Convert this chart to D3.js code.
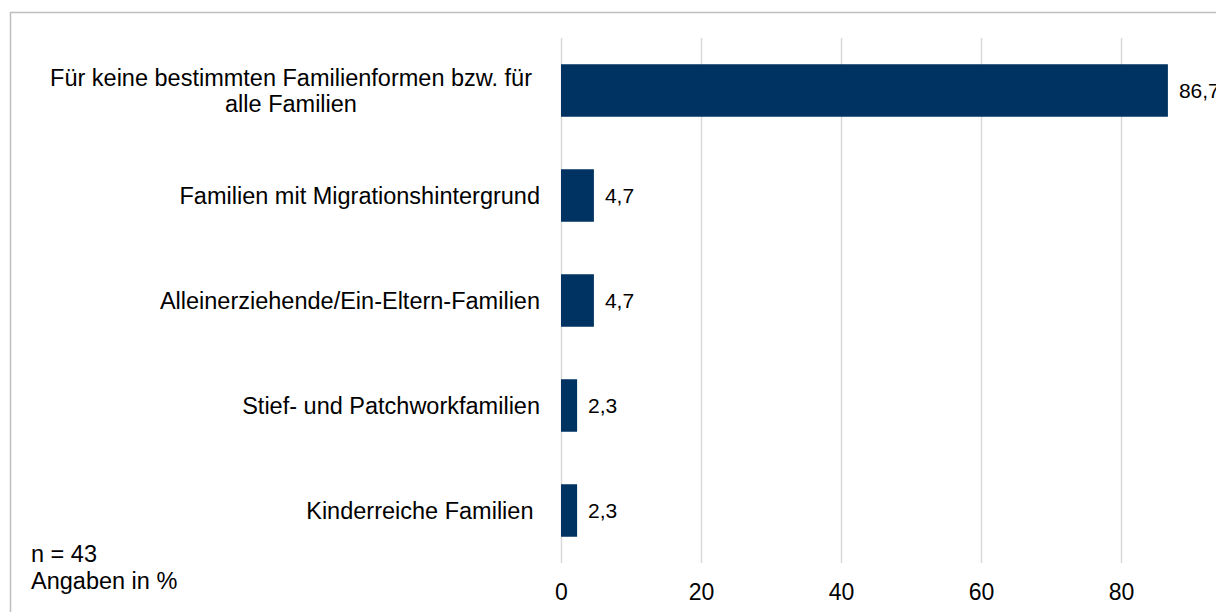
<!DOCTYPE html>
<html>
<head>
<meta charset="utf-8">
<script src="https://cdn.jsdelivr.net/npm/d3@7"></script>
<style>
body{margin:0;background:#fff;overflow:hidden;}
text{font-family:"Liberation Sans",Arial,sans-serif;fill:#000;}
</style>
</head>
<body>
<div id="main_div"></div>
<script>
let categories=[
    ["Für keine bestimmten Familienformen bzw. für","alle Familien"],
    ["Familien mit Migrationshintergrund"],
    ["Alleinerziehende/Ein-Eltern-Familien"],
    ["Stief- und Patchworkfamilien"],
    ["Kinderreiche Familien "]
];
let values=[86.7,4.7,4.7,2.3,2.3];
let valueLabels=["86,7","4,7","4,7","2,3","2,3"];
let ticks=[0,20,40,60,80];
let notes=["n = 43","Angaben in %"];

let size=[1216,612];
let svg=d3.select("#main_div")
    .append("svg")
    .attr("width",size[0])
    .attr("height",size[1])
    .attr("id","main_svg");

/**frame round the chart**/
svg.append("rect")
    .attr("x",10.5)
    .attr("y",12.5)
    .attr("width",1230)
    .attr("height",640)
    .attr("fill","none")
    .attr("stroke","#bfbfbf")
    .attr("stroke-width",1.5);

let xScale=d3.scaleLinear().domain([0,100]).range([561,1261]);
let yScale=d3.scaleBand().domain(d3.range(values.length)).range([38,563]).paddingInner(0.5).paddingOuter(0.25);

/**gridlines**/
svg.append("g")
    .selectAll("line")
    .data(ticks)
    .enter()
    .append("line")
    .attr("x1",d=>xScale(d)+0.5)
    .attr("x2",d=>xScale(d)+0.5)
    .attr("y1",38)
    .attr("y2",563)
    .attr("stroke","#d9d9d9")
    .attr("stroke-width",1.5);

/**x axis labels**/
let xAxis=d3.axisBottom(xScale).tickValues(ticks).tickSize(0).tickPadding(0).tickFormat(d=>d);
let xg=svg.append("g").attr("transform","translate(0,600)").call(xAxis);
xg.select(".domain").remove();
xg.selectAll("text")
    .attr("dy","0")
    .attr("y",0)
    .style("font-size","23px")
    .style("font-family","Liberation Sans, Arial, sans-serif")
    .style("fill","#000");

/**bars**/
svg.append("g")
    .selectAll("rect")
    .data(values)
    .enter()
    .append("rect")
    .attr("x",xScale(0))
    .attr("y",(d,i)=>yScale(i))
    .attr("width",d=>xScale(d)-xScale(0))
    .attr("height",yScale.bandwidth())
    .attr("fill","#003262");

/**value labels**/
svg.append("g")
    .selectAll("text")
    .data(values)
    .enter()
    .append("text")
    .attr("x",d=>xScale(d)+11)
    .attr("y",(d,i)=>yScale(i)+yScale.bandwidth()/2)
    .attr("dy","0.35em")
    .style("font-size","21px")
    .text((d,i)=>valueLabels[i]);

/**category labels**/
let cat=svg.append("g")
    .selectAll("text")
    .data(categories)
    .enter()
    .append("text")
    .attr("y",(d,i)=>yScale(i)+yScale.bandwidth()/2)
    .style("font-size","23.5px")
    .style("white-space","pre");

cat.each(function(lines){
    let t=d3.select(this);
    if(lines.length==1){
        t.attr("text-anchor","end")
            .append("tspan")
            .attr("x",540)
            .attr("dy","0.35em")
            .text(lines[0]);
    }else{
        t.attr("text-anchor","middle");
        lines.forEach((l,j)=>{
            t.append("tspan")
                .attr("x",291)
                .attr("dy",j==0?"-0.2em":"1.1em")
                .text(l);
        });
    }
});

/**notes bottom left**/
svg.append("g")
    .selectAll("text")
    .data(notes)
    .enter()
    .append("text")
    .attr("x",31)
    .attr("y",(d,i)=>562+i*27)
    .style("font-size","23.5px")
    .text(d=>d);
</script>
</body>
</html>
